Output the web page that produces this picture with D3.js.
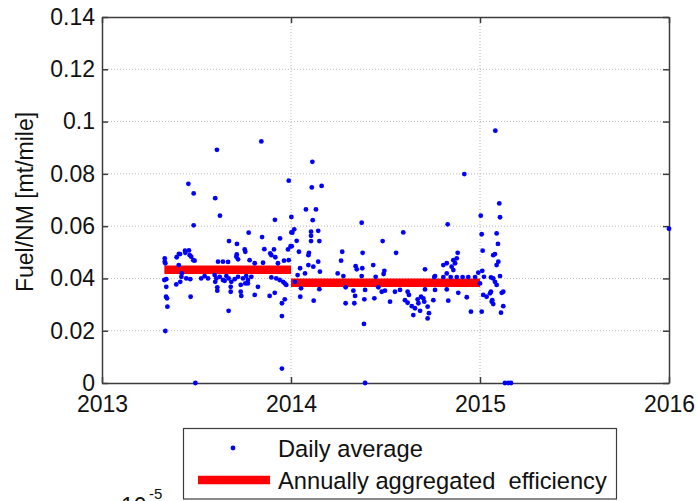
<!DOCTYPE html>
<html>
<head>
<meta charset="utf-8">
<script src="https://cdn.jsdelivr.net/npm/d3@7"></script>
<style>
  body { margin: 0; background: #fff; }
  svg { font-family: "Liberation Sans", Arial, sans-serif; }
</style>
</head>
<body>
<div id="chart"></div>
<script>
// daily average points: [decimal year, fuel per NM]
var dailyAvg = [
  [2013.608,0.0892],[2013.843,0.0924],[2013.457,0.0762],[2013.485,0.0725],[2013.599,0.0707],
  [2013.624,0.0640],[2013.485,0.0603],[2013.988,0.0774],[2014.002,0.0635],[2013.915,0.0624],
  [2013.776,0.0575],[2013.672,0.0543],[2013.714,0.0532],[2013.847,0.0558],[2013.942,0.0553],
  [2014.002,0.0576],[2013.998,0.0523],[2013.755,0.0511],[2013.758,0.0502],[2013.859,0.0512],
  [2013.910,0.0511],[2013.890,0.0496],[2013.407,0.0494],[2013.441,0.0498],[2013.460,0.0507],
  [2013.713,0.0492],[2013.984,0.0511],[2013.332,0.0477],[2013.332,0.0464],[2013.335,0.0458],
  [2013.464,0.0489],[2013.472,0.0483],[2013.490,0.0468],[2013.406,0.0451],[2013.420,0.0406],
  [2013.393,0.0377],[2013.414,0.0387],[2013.446,0.0400],[2013.467,0.0397],[2013.340,0.0397],
  [2013.340,0.0368],[2013.339,0.0330],[2013.344,0.0324],[2013.346,0.0292],[2013.335,0.0199],
  [2013.469,0.0330],[2013.614,0.0464],[2013.640,0.0464],[2013.667,0.0463],[2013.711,0.0483],
  [2013.720,0.0473],[2013.781,0.0470],[2013.808,0.0458],[2013.852,0.0460],[2013.896,0.0489],
  [2013.917,0.0481],[2013.931,0.0458],[2013.963,0.0468],[2013.988,0.0470],[2013.596,0.0413],
  [2013.605,0.0400],[2013.623,0.0406],[2013.640,0.0394],[2013.658,0.0409],[2013.670,0.0400],
  [2013.684,0.0387],[2013.702,0.0397],[2013.720,0.0406],[2013.746,0.0400],[2013.763,0.0409],
  [2013.772,0.0394],[2013.790,0.0406],[2013.599,0.0387],[2013.610,0.0366],[2013.610,0.0353],
  [2013.681,0.0368],[2013.681,0.0349],[2013.734,0.0375],[2013.734,0.0349],[2013.737,0.0333],
  [2013.758,0.0381],[2013.772,0.0381],[2013.808,0.0337],[2013.825,0.0368],[2013.670,0.0276],
  [2013.887,0.0333],[2013.914,0.0345],[2013.896,0.0404],[2013.922,0.0400],[2013.940,0.0394],
  [2013.958,0.0387],[2013.967,0.0381],[2013.975,0.0375],[2013.967,0.0320],[2013.952,0.0305],
  [2013.952,0.0256],[2013.952,0.0055],[2013.494,0.0000],[2013.649,0.0391],[2013.561,0.0400],
  [2013.543,0.0409],[2013.525,0.0400],[2013.330,0.0394],[2013.395,0.0481],[2013.413,0.0493],
  [2013.439,0.0506],[2013.483,0.0470],[2013.422,0.0419],
  [2014.113,0.0846],[2014.110,0.0748],[2014.162,0.0754],[2014.079,0.0664],[2014.132,0.0664],
  [2014.115,0.0623],[2014.374,0.0613],[2014.594,0.0576],[2014.017,0.0588],[2014.007,0.0575],
  [2014.106,0.0579],[2014.106,0.0563],[2014.144,0.0582],[2014.030,0.0544],[2014.106,0.0543],
  [2014.150,0.0543],[2014.485,0.0543],[2014.004,0.0523],[2014.042,0.0502],[2014.095,0.0498],
  [2014.271,0.0502],[2014.379,0.0498],[2014.556,0.0498],[2014.092,0.0489],[2014.144,0.0464],
  [2014.092,0.0451],[2014.048,0.0439],[2014.118,0.0445],[2014.153,0.0426],[2014.074,0.0419],
  [2014.035,0.0413],[2014.021,0.0387],[2014.053,0.0362],[2014.049,0.0330],[2014.120,0.0315],
  [2014.150,0.0359],[2014.265,0.0468],[2014.247,0.0419],[2014.277,0.0409],[2014.289,0.0366],
  [2014.289,0.0305],[2014.342,0.0447],[2014.377,0.0439],[2014.348,0.0435],[2014.435,0.0451],
  [2014.494,0.0429],[2014.490,0.0417],[2014.374,0.0409],[2014.448,0.0406],[2014.330,0.0353],
  [2014.339,0.0333],[2014.335,0.0305],[2014.392,0.0356],[2014.388,0.0320],[2014.441,0.0324],
  [2014.462,0.0366],[2014.480,0.0349],[2014.497,0.0353],[2014.524,0.0311],[2014.550,0.0349],
  [2014.577,0.0356],[2014.603,0.0317],[2014.617,0.0307],[2014.386,0.0226],[2014.392,0.0000],
  [2014.917,0.0799],[2014.829,0.0607],[2014.882,0.0498],[2014.877,0.0477],[2014.859,0.0470],
  [2014.824,0.0458],[2014.868,0.0458],[2014.850,0.0445],[2014.806,0.0451],[2014.859,0.0432],
  [2014.824,0.0419],[2014.709,0.0435],[2014.762,0.0409],[2014.930,0.0328],[2014.832,0.0315],
  [2014.885,0.0345],[2014.824,0.0358],[2014.762,0.0356],[2014.709,0.0358],[2014.617,0.0349],
  [2014.624,0.0337],[2014.639,0.0294],[2014.656,0.0286],[2014.674,0.0305],[2014.683,0.0276],
  [2014.670,0.0320],[2014.688,0.0330],[2014.700,0.0324],[2014.705,0.0311],[2014.723,0.0292],
  [2014.730,0.0267],[2014.723,0.0247],[2014.753,0.0317],[2014.647,0.0260],[2014.952,0.0273],
  [2014.758,0.0405],[2014.806,0.0405],[2014.845,0.0405],[2014.877,0.0405],[2014.908,0.0405],
  [2014.938,0.0405],[2014.974,0.0405],[2014.991,0.0422],
  [2015.081,0.0965],[2015.102,0.0687],[2015.106,0.0634],[2015.004,0.0640],[2015.009,0.0569],
  [2015.088,0.0572],[2015.095,0.0532],[2015.014,0.0506],[2015.079,0.0493],[2015.097,0.0464],
  [2015.088,0.0451],[2015.012,0.0429],[2015.021,0.0406],[2015.058,0.0404],[2015.106,0.0409],
  [2015.079,0.0387],[2015.088,0.0375],[2015.115,0.0345],[2015.123,0.0294],[2015.111,0.0269],
  [2015.017,0.0337],[2015.035,0.0330],[2015.058,0.0349],[2015.065,0.0317],[2015.070,0.0302],
  [2015.009,0.0273],[2015.070,0.0489],[2015.000,0.0381],[2015.070,0.0400],[2015.053,0.0343],
  [2015.062,0.0311],[2015.123,0.0349],[2015.132,0.0000],[2015.150,0.0000],[2015.164,0.0000],
  [2016.000,0.0590]
];

// annually aggregated efficiency
var aggStart = [2013.33, 2014.0];
var aggEnd = [2014.0, 2015.0];
var aggValue = [0.0433, 0.0383];

var xTicks = [2013, 2014, 2015, 2016];
var yTicks = [0, 0.02, 0.04, 0.06, 0.08, 0.1, 0.12, 0.14];
var legendLabels = ["Daily average", "Annually aggregated  efficiency"];

var W = 697, H = 501;
var margin = {top: 17, right: 28, bottom: 118, left: 102};
var width = W - margin.left - margin.right;
var height = H - margin.top - margin.bottom;
var fontSize = "23px";

var svg = d3.select("#chart").append("svg")
    .attr("width", W)
    .attr("height", H);

var x = d3.scaleLinear().domain([2013, 2016]).range([margin.left, margin.left + width]);
var y = d3.scaleLinear().domain([0, 0.14]).range([margin.top + height, margin.top]);

// grid
var grid = svg.append("g").attr("stroke", "#b8b8b8").attr("stroke-width", 1)
    .attr("stroke-dasharray", "1,2");
grid.selectAll(".gx").data(xTicks.slice(1, -1)).enter().append("line")
    .attr("x1", function(d){ return x(d); }).attr("x2", function(d){ return x(d); })
    .attr("y1", margin.top).attr("y2", margin.top + height);
grid.selectAll(".gy").data(yTicks.slice(1, -1)).enter().append("line")
    .attr("y1", function(d){ return y(d); }).attr("y2", function(d){ return y(d); })
    .attr("x1", margin.left).attr("x2", margin.left + width);

// axes (ticks inside, box)
var axisColor = "#3c3c3c";
function styleAxis(g) {
    g.selectAll("path").attr("stroke", axisColor).attr("stroke-width", 1.5);
    g.selectAll("line").attr("stroke", axisColor).attr("stroke-width", 1.5);
    g.selectAll("text").attr("fill", "#111").style("font-size", fontSize);
}
svg.append("g")
    .attr("transform", "translate(0," + (margin.top + height) + ")")
    .call(d3.axisBottom(x).tickValues(xTicks).tickFormat(d3.format("d")).tickSizeInner(-6).tickSizeOuter(0).tickPadding(13))
    .call(styleAxis);
svg.append("g")
    .attr("transform", "translate(0," + margin.top + ")")
    .call(d3.axisTop(x).tickValues(xTicks).tickFormat("").tickSizeInner(-6).tickSizeOuter(0))
    .call(styleAxis);
svg.append("g")
    .attr("transform", "translate(" + margin.left + ",0)")
    .call(d3.axisLeft(y).tickValues(yTicks).tickFormat(function(d){ return d3.format("")(+d.toFixed(2)); }).tickSizeInner(-6).tickSizeOuter(0).tickPadding(7))
    .call(styleAxis);
svg.append("g")
    .attr("transform", "translate(" + (margin.left + width) + ",0)")
    .call(d3.axisRight(y).tickValues(yTicks).tickFormat("").tickSizeInner(-6).tickSizeOuter(0))
    .call(styleAxis);

// y label
svg.append("text")
    .attr("transform", "translate(33," + (margin.top + height / 2 + 2) + ") rotate(-90)")
    .attr("text-anchor", "middle")
    .style("font-size", fontSize)
    .attr("fill", "#111")
    .text("Fuel/NM [mt/mile]");

// red aggregate lines
svg.selectAll(".agg").data(aggValue).enter().append("line")
    .attr("x1", function(d, i){ return x(aggStart[i]); })
    .attr("x2", function(d, i){ return x(aggEnd[i]); })
    .attr("y1", function(d){ return y(d); })
    .attr("y2", function(d){ return y(d); })
    .attr("stroke", "#ff0000")
    .attr("stroke-width", 8.5);

// blue dots
svg.selectAll(".dot").data(dailyAvg).enter().append("circle")
    .attr("cx", function(d){ return x(d[0]); })
    .attr("cy", function(d){ return y(d[1]); })
    .attr("r", 2.4)
    .attr("fill", "#0000ff");

// legend
var lg = svg.append("g");
lg.append("rect")
    .attr("x", 183.5).attr("y", 428.5)
    .attr("width", 433).attr("height", 70.5)
    .attr("fill", "#fff").attr("stroke", axisColor).attr("stroke-width", 1.2);
lg.append("circle").attr("cx", 233).attr("cy", 448).attr("r", 2.4).attr("fill", "#0000ff");
lg.append("line").attr("x1", 198).attr("x2", 270).attr("y1", 480).attr("y2", 480)
    .attr("stroke", "#ff0000").attr("stroke-width", 8.5);
lg.selectAll(".lt").data(legendLabels).enter().append("text")
    .attr("x", 278)
    .attr("y", function(d, i){ return 448 + i * 32; })
    .attr("dy", "0.36em")
    .style("font-size", "23.7px")
    .attr("fill", "#111")
    .style("white-space", "pre")
    .text(function(d){ return d; });

// exponent label (partly off the bottom edge, as in the source figure)
svg.append("text").attr("x", 121).attr("y", 514).style("font-size", fontSize).attr("fill", "#111").text("10");
svg.append("text").attr("x", 149).attr("y", 499).style("font-size", "15px").attr("fill", "#111").text("-5");
</script>
</body>
</html>
